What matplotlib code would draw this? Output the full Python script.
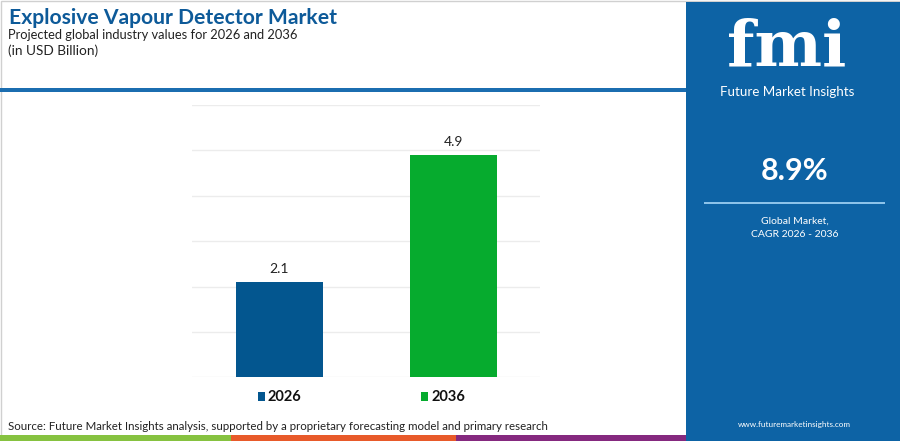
import matplotlib
matplotlib.use("Agg")
import matplotlib.pyplot as plt
from matplotlib.patches import Rectangle

categories = ["2026", "2036"]
values = [2.1, 4.9]
colors = ["#03568f", "#06ab2e"]
cagr = "8.9%"

W, H = 900, 441
fig = plt.figure(figsize=(W / 100, H / 100), dpi=100)
fig.patch.set_facecolor("white")

def px(x, y):
    return x / W, 1 - y / H

# background elements in figure coords
bg = fig.add_axes([0, 0, 1, 1], zorder=0)
bg.set_xlim(0, W)
bg.set_ylim(H, 0)
bg.axis("off")
# outer frame
bg.add_patch(Rectangle((0.5, 0.5), W - 1, H - 1, fill=False, ec="#d0d0d0", lw=1))
# header line
bg.add_patch(Rectangle((0, 88), 686, 4, color="#1b6db0", lw=0))
# right panel
bg.add_patch(Rectangle((686, 2), 214, 439, color="#0d63a5", lw=0))
# bottom stripes
bg.add_patch(Rectangle((0, 435), 231, 6, color="#86c240", lw=0))
bg.add_patch(Rectangle((231, 435), 225, 6, color="#e85a2a", lw=0))
bg.add_patch(Rectangle((456, 435), 230, 6, color="#85297f", lw=0))
# panel divider line
bg.add_patch(Rectangle((704, 202), 181, 2, color="#8cc3ea", lw=0))

# main chart
ax = fig.add_axes([192 / W, 1 - 377.3 / H, (540 - 192) / W, (377.3 - 105) / H], zorder=1)
ax.set_facecolor("none")
x = list(range(len(categories)))
bars = ax.bar(x, values, width=0.5, color=colors, zorder=3)
ax.set_xlim(-0.5, 1.5)
ax.set_ylim(0, 6)
ax.set_yticks(range(0, 7))
ax.yaxis.grid(True, color="#ececec", lw=1, zorder=0)
ax.tick_params(left=False, bottom=False, labelleft=False, labelbottom=False)
for s in ax.spines.values():
    s.set_visible(False)
for xi, v in zip(x, values):
    ax.text(xi, v + 0.16, f"{v}", ha="center", va="bottom", fontsize=10,
            color="#222222", family="Lato")

# legend
for (lx, cat, c) in [(258, categories[0], colors[0]), (421, categories[1], colors[1])]:
    bg.add_patch(Rectangle((lx, 392), 7, 9, color=c, lw=0))
    bg.text(lx + 10, 397, cat, ha="left", va="center", fontsize=10.5,
            fontweight="bold", color="#111111", family="Lato")

# titles
fig.text(*px(9, 18), "Explosive Vapour Detector Market", fontsize=15.2, fontweight="bold",
         color="#0d5a99", ha="left", va="center", family="Lato")
fig.text(*px(8, 35), "Projected global industry values for 2026 and 2036", fontsize=9.3,
         color="#222222", ha="left", va="center", family="Lato")
fig.text(*px(8, 51), "(in USD Billion)", fontsize=9.8, color="#222222",
         ha="left", va="center", family="Lato")

# source
fig.text(*px(8, 426), "Source: Future Market Insights analysis, supported by a proprietary forecasting model and primary research",
         fontsize=8.3, color="#222222", ha="left", va="center", family="Lato")

# right panel text
fig.text(*px(787, 48), "fmi", fontsize=46, fontweight="bold", color="white",
         ha="center", va="center", family="DejaVu Serif")
fig.text(*px(787, 92), "Future Market Insights", fontsize=9.6, color="white",
         ha="center", va="center", family="Lato")
fig.text(*px(795, 171), cagr, fontsize=22, fontweight="bold", color="white",
         ha="center", va="center", family="Lato")
fig.text(*px(795, 221), "Global Market,", fontsize=7.5, color="white",
         ha="center", va="center", family="Lato")
fig.text(*px(795, 235), "CAGR 2026 - 2036", fontsize=7.5, color="white",
         ha="center", va="center", family="Lato")
fig.text(*px(794, 425), "www.futuremarketinsights.com", fontsize=5.9, color="white",
         ha="center", va="center", family="Lato")

fig.savefig("out.png", dpi=100)
